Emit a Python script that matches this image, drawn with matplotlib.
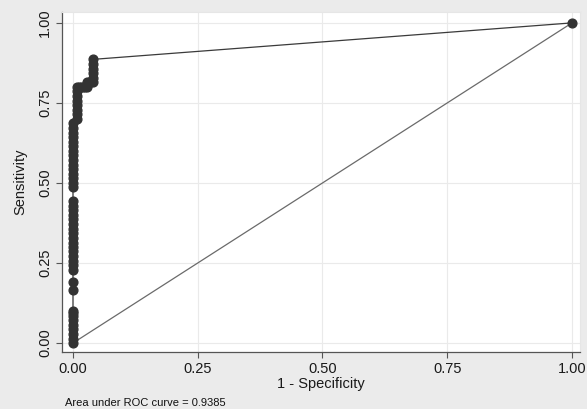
import numpy as np
import matplotlib
matplotlib.use('Agg')
import matplotlib.pyplot as plt

plt.rcParams['font.family'] = ['Liberation Sans', 'DejaVu Sans']

# ROC points (1 - specificity, sensitivity)
fpr = [0, 0, 0, 0, 0, 0, 0, 0, 0,
       0, 0,
       0, 0, 0, 0, 0, 0, 0, 0, 0, 0, 0, 0, 0, 0, 0, 0,
       0, 0, 0, 0, 0, 0, 0, 0, 0, 0, 0, 0, 0, 0, 0,
       0.008, 0.008, 0.008, 0.008, 0.008, 0.008, 0.008, 0.008,
       0.012, 0.016, 0.020, 0.024,
       0.028, 0.028,
       0.032, 0.036, 0.040, 0.040, 0.040, 0.040, 0.040, 0.040,
       1.0]
tpr = [0.0, 0.014, 0.029, 0.043, 0.057, 0.071, 0.086, 0.095, 0.100,
       0.165, 0.190,
       0.229, 0.243, 0.257, 0.271, 0.286, 0.300, 0.314, 0.329, 0.343, 0.357, 0.371, 0.386, 0.400, 0.414, 0.429, 0.443,
       0.486, 0.500, 0.514, 0.529, 0.543, 0.557, 0.571, 0.586, 0.600, 0.614, 0.629, 0.643, 0.657, 0.671, 0.686,
       0.700, 0.714, 0.729, 0.743, 0.757, 0.771, 0.786, 0.800,
       0.800, 0.800, 0.800, 0.800,
       0.800, 0.814,
       0.814, 0.814, 0.814, 0.829, 0.843, 0.857, 0.871, 0.886,
       1.0]
ticks = [0, 0.25, 0.5, 0.75, 1.0]
tick_labels = ['0.00', '0.25', '0.50', '0.75', '1.00']
auc = 0.9385

fig = plt.figure(figsize=(5.87, 4.09), dpi=100)
fig.patch.set_facecolor('#ebebeb')
ax = fig.add_axes([62/587, 1-352/409, (580-62)/587, (352-12)/409])
ax.set_facecolor('white')

ax.plot([0, 1], [0, 1], color='#6a6a6a', lw=0.9, zorder=2)
ax.plot(fpr, tpr, color='#3a3a3a', lw=0.9, marker='o', ms=6.3,
        mfc='#333333', mec='#333333', zorder=3)

ax.set_xlim(-0.022, 1.016)
ax.set_ylim(-0.028, 1.034)
ax.set_xticks(ticks)
ax.set_xticklabels(tick_labels)
ax.set_yticks(ticks)
ax.set_yticklabels(tick_labels, rotation=90, va='center')
ax.grid(True, color='#eaeaea', lw=0.8)
ax.set_axisbelow(True)

for s in ['top', 'right']:
    ax.spines[s].set_color('#e6e6e6')
for s in ['left', 'bottom']:
    ax.spines[s].set_color('#555555')
    ax.spines[s].set_linewidth(0.9)
ax.tick_params(length=4, width=0.8, color='#555555', labelsize=10.5,
               labelcolor='#1a1a1a', pad=3)

ax.set_xlabel('1 - Specificity', fontsize=10.5, labelpad=1, color='#1a1a1a')
ax.set_ylabel('Sensitivity', fontsize=10.5, labelpad=8, color='#1a1a1a')
fig.text(65/587, 1-403/409, 'Area under ROC curve = %.4f' % auc,
         fontsize=8, va='center', ha='left', color='#111111')

fig.savefig('out.png', dpi=100, facecolor=fig.get_facecolor())
